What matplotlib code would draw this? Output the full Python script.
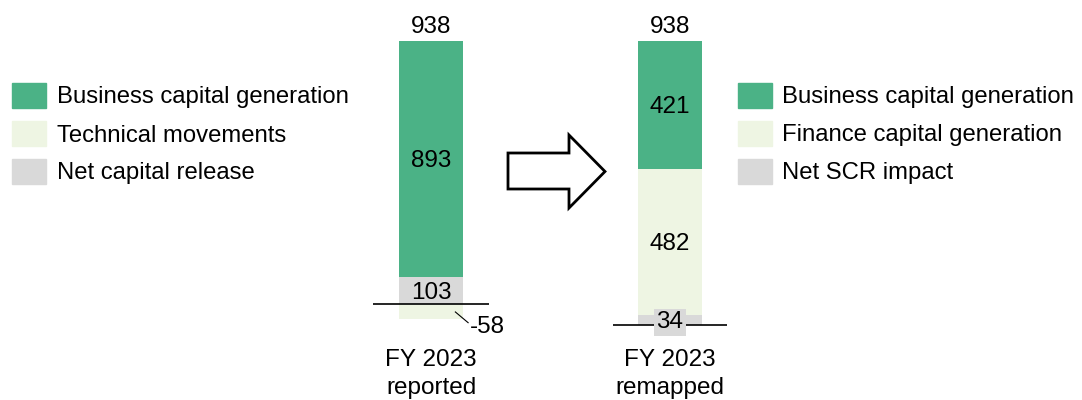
import matplotlib
matplotlib.use("Agg")
import matplotlib.pyplot as plt
from matplotlib.patches import Rectangle, Polygon

plt.rcParams['font.family'] = ['Liberation Sans', 'DejaVu Sans']

# data
left_labels = ["Business capital generation", "Technical movements", "Net capital release"]
left_values = [893, -58, 103]
left_total = 938
left_cat = "FY 2023\nreported"

right_labels = ["Business capital generation", "Finance capital generation", "Net SCR impact"]
right_values = [421, 482, 34]
right_total = 938
right_cat = "FY 2023\nremapped"

c_green = "#4BB286"
c_light = "#EEF5E3"
c_grey = "#D9D9D9"
colors = [c_green, c_light, c_grey]
FS = 17.5
FS_LEG = 17.2

W, H = 1082, 400
fig = plt.figure(figsize=(W / 100, H / 100), dpi=100)


def fx(px):
    return px / W


def fy(py):
    return 1 - py / H


VA = "center_baseline"

# ---- left bar (reported) ----
ax1 = fig.add_axes([fx(373), 0, fx(116), 1])
k1 = 0.264
ax1.set_ylim(-(400 - 304) / k1, 304 / k1)
ax1.set_xlim(-0.5, 0.5)
bw = 0.56
biz, tech, rel = left_values
ax1.bar(0, rel, bw, bottom=0, color=c_grey)
ax1.bar(0, biz, bw, bottom=rel, color=c_green)
ax1.bar(0, tech, bw, bottom=0, color=c_light)
ax1.axhline(0, color="black", lw=1.2)
ax1.text(0, rel + biz / 2, str(biz), ha="center", va=VA, fontsize=FS)
ax1.text(0, rel / 2, str(rel), ha="center", va=VA, fontsize=FS)
# leader line + label for the negative segment
ax1.plot([0.21, 0.32], [tech * 0.52, tech * 1.22], color="black", lw=0.8)
ax1.text(0.335, tech * 1.36, str(tech), ha="left", va=VA, fontsize=FS)
ax1.annotate(str(left_total), xy=(0, rel + biz), xytext=(0, 12),
             textcoords="offset points", ha="center", va=VA, fontsize=FS)
ax1.axis("off")

# ---- right bar (remapped) ----
ax2 = fig.add_axes([fx(613), 0, fx(114), 1])
k2 = 0.3031
ax2.set_ylim(-(400 - 325) / k2, 325 / k2)
ax2.set_xlim(-0.5, 0.5)
rbiz, fin, scr = right_values
ax2.bar(0, scr, bw, bottom=0, color=c_grey)
ax2.bar(0, fin, bw, bottom=scr, color=c_light)
ax2.bar(0, rbiz, bw, bottom=scr + fin, color=c_green)
ax2.axhline(0, color="black", lw=1.2)
ax2.text(0, scr + fin + rbiz / 2, str(rbiz), ha="center", va=VA, fontsize=FS)
ax2.text(0, scr + fin / 2, str(fin), ha="center", va=VA, fontsize=FS)
ax2.text(0, scr / 2, str(scr), ha="center", va=VA, fontsize=FS,
         bbox=dict(facecolor=c_grey, edgecolor="none", pad=1.5))
ax2.annotate(str(right_total), xy=(0, scr + fin + rbiz), xytext=(0, 12),
             textcoords="offset points", ha="center", va=VA, fontsize=FS)
ax2.axis("off")

# category labels
fig.text(fx(431), fy(374), left_cat, ha="center", va="center", fontsize=FS, linespacing=1.3)
fig.text(fx(670), fy(374), right_cat, ha="center", va="center", fontsize=FS, linespacing=1.3)

# legends
rows = [95, 133, 171]
for i, lab in enumerate(left_labels):
    fig.patches.append(Rectangle((fx(12), fy(rows[i] + 12.5)), fx(34), 25 / H,
                                 transform=fig.transFigure, color=colors[i]))
    fig.text(fx(57), fy(rows[i]), lab, ha="left", va=VA, fontsize=FS_LEG)
for i, lab in enumerate(right_labels):
    fig.patches.append(Rectangle((fx(738), fy(rows[i] + 12.5)), fx(34), 25 / H,
                                 transform=fig.transFigure, color=colors[i]))
    fig.text(fx(782), fy(rows[i]), lab, ha="left", va=VA, fontsize=FS_LEG)

# block arrow
pts = [(508, 153), (569, 153), (569, 135), (605, 171.5), (569, 208), (569, 189), (508, 189)]
fig.patches.append(Polygon([(fx(x), fy(y)) for x, y in pts], closed=True,
                           transform=fig.transFigure, facecolor="white",
                           edgecolor="black", lw=2))

fig.savefig("out.png", dpi=100)
